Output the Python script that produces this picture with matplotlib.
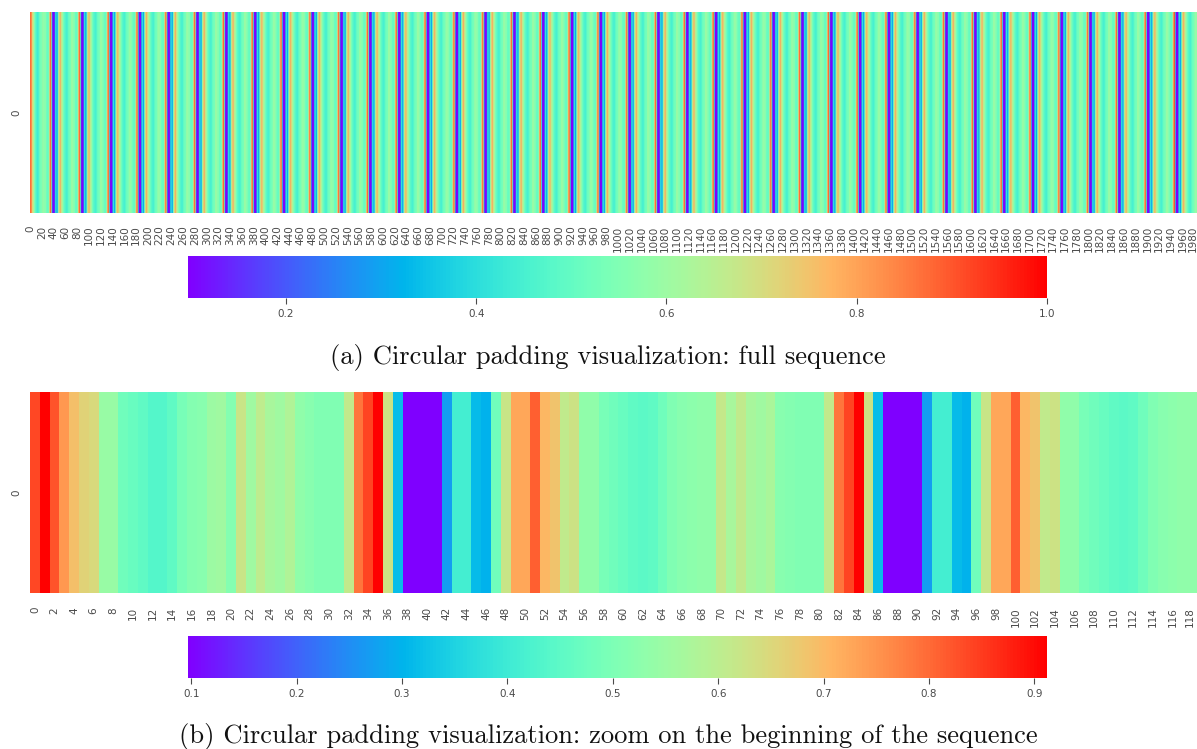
import numpy as np
import matplotlib
matplotlib.use("Agg")
import matplotlib.pyplot as plt
from matplotlib.transforms import ScaledTranslation

# values: the start of the sequence, then one period
head = [.836, .912, .824, .745, .69, .66, .647, .545, .545, .48, .468, .454, .437, .437, .454, .493,
        .513, .518, .55, .556, .513, .62, .557, .605, .57, .557, .582, .531, .518, .505, .505, .505]
period = [.61, .785, .84, .912, .627, .315, .097, .097, .097, .097, .27, .411, .411, .312, .30, .48,
          .62, .725, .725, .811, .703, .684, .607, .627, .531, .531, .493, .48, .468, .454, .448, .454,
          .48, .505, .518, .524, .531, .531, .614, .57, .607, .57, .557, .572, .518, .513, .505, .505, .505]

full_len = 1985
zoom_len = 119
# the only cell of the full sequence that reaches the top of its colour scale
full_peak_index = 1946
full_peak_value = 1.0

full_ticks = list(range(0, 2000, 20))
zoom_ticks = list(range(0, 120, 2))
full_cbar_ticks = [0.2, 0.4, 0.6, 0.8, 1.0]
zoom_cbar_ticks = [0.1, 0.2, 0.3, 0.4, 0.5, 0.6, 0.7, 0.8, 0.9]

title_a = "(a) Circular padding visualization: full sequence"
title_b = "(b) Circular padding visualization: zoom on the beginning of the sequence"

# the sequence is periodic, so the long one is the period laid end to end
full_seq = np.array((head + period * 41)[:full_len])
full_seq[full_peak_index] = full_peak_value
zoom_seq = np.array((head + period * 3)[:zoom_len])

W, H = 1197, 749
TEXT = "#4a4a4a"


def box(x0, y0, x1, y1):
    # pixel box (top left origin) to figure fractions
    return [x0 / W, 1 - y1 / H, (x1 - x0) / W, (y1 - y0) / H]


def panel(fig, seq, ticks, cbar_ticks, vmin, vmax, y0, tick_pad):
    ax = fig.add_axes(box(30, y0, 1197, y0 + 201))
    # imshow smooths the long sequence when it has fewer pixels than cells
    im = ax.imshow(seq[np.newaxis, :], cmap="rainbow", vmin=vmin, vmax=vmax, aspect="auto",
                   extent=(0, len(seq), 1, 0), interpolation="antialiased", interpolation_stage="rgba")
    for s in ax.spines.values():
        s.set_visible(False)
    ax.set_xticks(np.array(ticks) + 0.5, [str(t) for t in ticks], rotation=90, va="top")
    ax.set_yticks([0.5], ["0"], rotation=90, va="center")
    ax.tick_params(axis="x", length=0, pad=tick_pad, labelsize=7.5, labelcolor=TEXT)
    ax.tick_params(axis="y", length=0, pad=6, labelsize=7.5, labelcolor=TEXT)

    # last label touches the right edge of the figure
    last = ax.get_xticklabels()[-1]
    last.set_transform(last.get_transform() + ScaledTranslation(-2 / 100, 0, fig.dpi_scale_trans))

    cax = fig.add_axes(box(188, y0 + 244, 1047, y0 + 286))
    cb = fig.colorbar(im, cax=cax, orientation="horizontal", ticks=cbar_ticks)
    cb.outline.set_visible(False)
    cb.ax.tick_params(length=4.5, width=0.8, color=TEXT, labelsize=7.5, labelcolor=TEXT, pad=3.5)
    cb.ax.set_xticklabels([f"{t:.1f}" for t in cbar_ticks])


fig = plt.figure(figsize=(W / 100, H / 100), dpi=100)
panel(fig, full_seq, full_ticks, full_cbar_ticks, 0.097, 1.0, 12, 9)
panel(fig, zoom_seq, zoom_ticks, zoom_cbar_ticks, 0.097, 0.912, 392, 10)

fig.text(608 / W, 1 - 358 / H, title_a, family="cmr10", fontsize=19.1, color="#111111", ha="center", va="center")
fig.text(608 / W, 1 - 736 / H, title_b, family="cmr10", fontsize=19.1, color="#111111", ha="center", va="center")

fig.savefig("out.png", dpi=100)
